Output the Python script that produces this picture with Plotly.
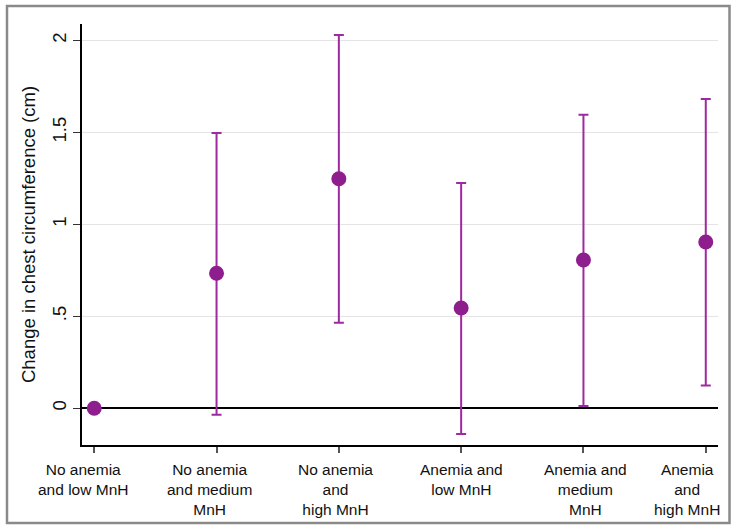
import plotly.graph_objects as go

categories = ["No anemia<br>and low MnH", "No anemia<br>and medium<br>MnH", "No anemia<br>and<br>high MnH",
              "Anemia and<br>low MnH", "Anemia and<br>medium<br>MnH", "Anemia<br>and<br>high MnH"]
estimate = [0.0, 0.734, 1.248, 0.545, 0.806, 0.904]
ci_upper = [0.0, 1.496, 2.029, 1.224, 1.596, 1.681]
ci_lower = [0.0, -0.036, 0.465, -0.140, 0.0125, 0.123]
y_tickvals = [0, 0.5, 1, 1.5, 2]
y_ticktext = ["0", ".5", "1", "1.5", "2"]

# horizontal pixel nudges of the category labels (layout styling)
label_nudge = [-11, -7, -3.5, 0, 2, -19]

xpos = list(range(len(categories)))
err_plus = [u - e for u, e in zip(ci_upper, estimate)]
err_minus = [e - l for e, l in zip(estimate, ci_lower)]

fig = go.Figure()
fig.add_trace(go.Scatter(
    x=xpos, y=estimate, mode="markers",
    marker=dict(size=15, color="#8e1e8e"),
    error_y=dict(type="data", symmetric=False, array=err_plus, arrayminus=err_minus,
                 color="#9e2aa0", thickness=2, width=5),
    showlegend=False, hoverinfo="skip",
))

L, R, T, B = 82, 13, 24, 80
W, H = 731, 525
pw, ph = W - L - R, H - T - B

def px_x(p):
    return (p - L) / pw

def px_y(p):
    return (H - B - p) / ph

fig.add_shape(type="rect", xref="paper", yref="paper",
              x0=px_x(7), x1=px_x(729.5), y0=px_y(6), y1=px_y(523),
              line=dict(color="#8a8a8a", width=2.5), layer="below")

for xi, lab, dx in zip(xpos, categories, label_nudge):
    fig.add_annotation(x=xi, y=0, xref="x", yref="paper", text=lab, showarrow=False,
                       xanchor="center", yanchor="top", yshift=-14, xshift=dx,
                       font=dict(size=15.5, color="#111111"), align="center")

fig.update_layout(
    width=W, height=H,
    margin=dict(l=L, r=R, t=T, b=B),
    paper_bgcolor="white", plot_bgcolor="white",
    font=dict(family="Liberation Sans, Arial, sans-serif", color="#111111"),
)
fig.update_xaxes(
    range=[-0.1, 5.1], tickvals=xpos, ticktext=[""] * len(xpos),
    showgrid=False, zeroline=False, showline=True, linecolor="black", linewidth=1.5,
    ticks="outside", ticklen=6, tickcolor="#555555", tickwidth=1.5,
    fixedrange=True,
)
fig.update_yaxes(
    range=[-0.2, 2.089], tickvals=y_tickvals, ticktext=y_ticktext, tickangle=-90,
    showgrid=True, gridcolor="#e4e4e4", gridwidth=1.2,
    zeroline=True, zerolinecolor="black", zerolinewidth=2,
    showline=True, linecolor="black", linewidth=1.5,
    ticks="outside", ticklen=7, tickcolor="#333333", tickwidth=1.2,
    tickfont=dict(size=18.5),
    title=dict(text="Change in chest circumference (cm)", font=dict(size=18.5), standoff=8),
    fixedrange=True,
)

fig.write_html("out.html", config={"displayModeBar": False},
               post_script="document.body.style.margin='0px';document.body.style.overflow='hidden';")
